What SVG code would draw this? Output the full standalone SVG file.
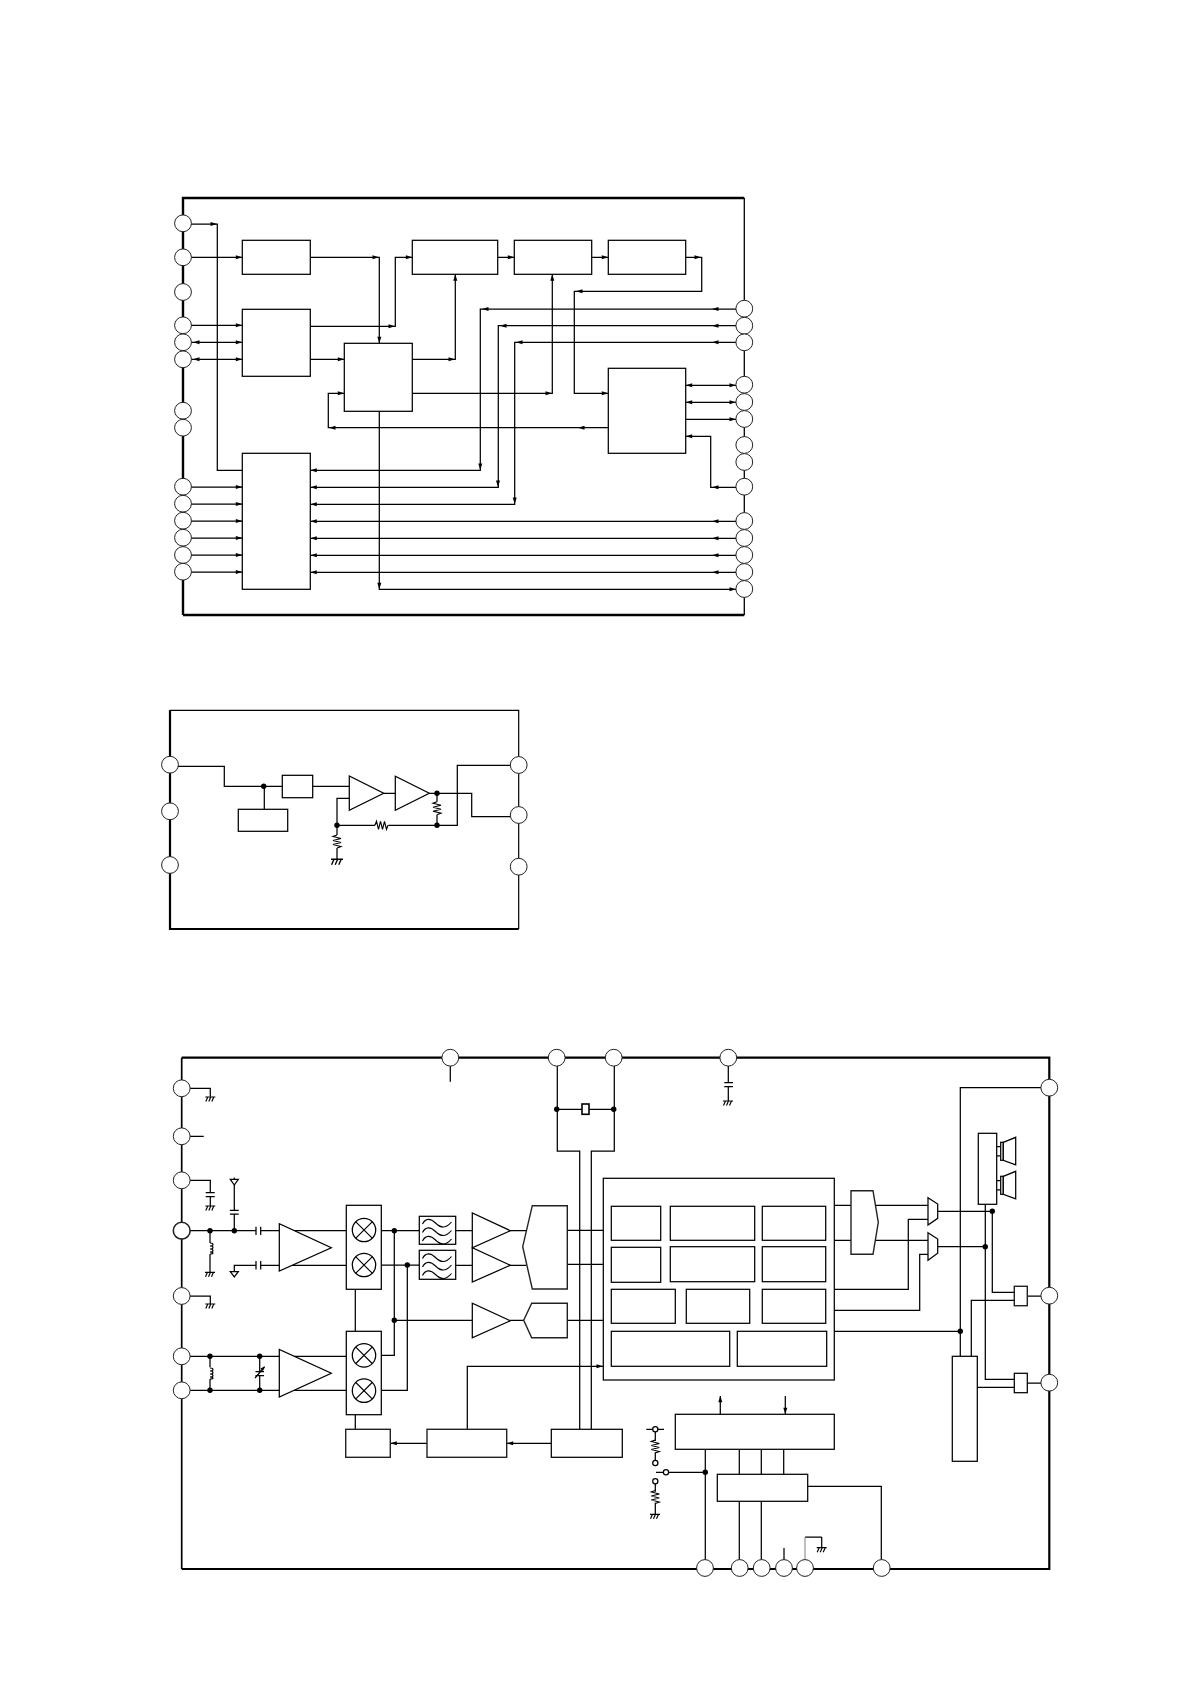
<svg xmlns="http://www.w3.org/2000/svg" width="1190" height="1684" viewBox="0 0 1190 1684">
<style>
.w{fill:none;stroke:#000;stroke-width:1.25}
.b{fill:#fff;stroke:#000;stroke-width:1.25}
.g{fill:#fff;stroke:#222;stroke-width:1.4}
.p{fill:#fff;stroke:#222;stroke-width:1}
.f{fill:none;stroke:#000}
.d{fill:#000}
.a{fill:#000}
.t{fill:none;stroke:#000;stroke-width:1.15}
</style>
<defs>
<path id="aR" class="a" d="M0 0L-6.5 -2L-6.5 2Z"/>
<path id="aL" class="a" d="M0 0L6.5 -2L6.5 2Z"/>
<path id="aU" class="a" d="M0 0L-2 6.5L2 6.5Z"/>
<path id="aD" class="a" d="M0 0L-2 -6.5L2 -6.5Z"/>
<path id="gnd" class="t" d="M-5 0H5M-2.5 0L-4.5 4.5M.5 0L-1.5 4.5M3.5 0L1.5 4.5"/>
<path id="rv" class="t" d="M0 0L-4 1.5L4 3.5L-4 5.5L4 7.5L-4 9.5L4 11.5L0 13"/>
<path id="rh" class="t" d="M0 0L1.5 -4L3.5 4L5.5 -4L7.5 4L9.5 -4L11.5 4L13 0"/>
<path id="ind" class="t" d="M0 0c4 0 4 3 0 3c4 0 4 3 0 3c4 0 4 3 0 3c4 0 4 2 0 2"/>
<path id="wave" class="t" d="M0 2c3 -6 8 -6 13 -1s10 6 16 -1"/>
<g id="mix"><circle class="b" r="11.7"/><path class="t" d="M-8.2 -8.2L8.2 8.2M8.2 -8.2L-8.2 8.2"/></g>
<g id="spk"><path class="t" d="M-3.9 -4.7H0M-3.9 4.6H0"/><rect class="b" y="-9" width="2.6" height="18"/><path class="b" d="M2.6 -9L15 -14V13.5L2.6 9Z"/></g>
</defs>

<g id="frames">
<path class="f" stroke-width="2.4" d="M183 615V198H744.3M183 615H744.3"/>
<path class="f" stroke-width="1.3" d="M744.3 198V615"/>
<path class="f" stroke-width="2.2" d="M170 710V929H518.7"/>
<path class="f" stroke-width="1.2" d="M170 710.3H518.7V929"/>
<path class="f" stroke-width="1.7" d="M181.7 1569V1057.7"/>
<path class="f" stroke-width="2.2" d="M181.7 1057.7H1049.3V1569H181.7"/>
</g>

<g id="connectors">
<path class="w" d="M191 224H217.3V470.3H242.3M191 257.3H242.3M310.3 257.3H379.3V343.3M310.3 326.3H395.3V257.3H412.3M191 325.3H242.3M191 342.3H242.3M191 359.3H242.3M310.3 359.3H344.3M412.3 359.3H455.3V274.3M412.3 393.3H552.3V274.3M344.3 393.3H328.3V427.7H608.3M379.3 411.3V589.3H736M497.7 257.3H514.3M591.7 257.3H608.3M685.7 257.3H701.7V291.3H574.3V393.3H608.3"/>
<path class="w" d="M736 309H480.3V470.3H310.3M736 325.7H498.3V487.3H310.3M736 342.3H514.7V504.3H310.3M736 521.3H310.3M736 538.3H310.3M736 555.3H310.3M736 572.3H310.3M191 487H242.3M191 504H242.3M191 521H242.3M191 538H242.3M191 555H242.3M191 572H242.3M685.7 385.3H736M685.7 402.3H736M685.7 419.3H736M736 487.3H710.7V436.3H685.7"/>
<use href="#aR" x="217" y="224"/><use href="#aR" x="242.3" y="257.3"/><use href="#aR" x="379" y="257.3"/><use href="#aD" x="379.3" y="343.3"/><use href="#aR" x="395" y="326.3"/><use href="#aR" x="412.3" y="257.3"/><use href="#aR" x="242.3" y="325.3"/><use href="#aR" x="242.3" y="342.3"/><use href="#aR" x="242.3" y="359.3"/><use href="#aL" x="193" y="342.3"/><use href="#aL" x="193" y="359.3"/><use href="#aR" x="344.3" y="359.3"/><use href="#aR" x="455" y="359.3"/><use href="#aU" x="455.3" y="274.3"/><use href="#aR" x="552" y="393.3"/><use href="#aU" x="552.3" y="274.3"/><use href="#aR" x="344.3" y="393.3"/><use href="#aL" x="329" y="427.7"/><use href="#aL" x="578" y="427.7"/><use href="#aD" x="379.3" y="589.3"/><use href="#aR" x="736" y="589.3"/><use href="#aR" x="514.3" y="257.3"/><use href="#aR" x="608.3" y="257.3"/><use href="#aR" x="701" y="257.3"/><use href="#aL" x="576" y="291.3"/><use href="#aR" x="608.3" y="393.3"/>
<use href="#aL" x="712" y="309"/><use href="#aL" x="482" y="309"/><use href="#aD" x="480.3" y="470"/><use href="#aL" x="310.3" y="470.3"/><use href="#aL" x="712" y="325.7"/><use href="#aL" x="500" y="325.7"/><use href="#aD" x="498" y="487"/><use href="#aL" x="310.3" y="487.3"/><use href="#aL" x="712" y="342.3"/><use href="#aL" x="516" y="342.3"/><use href="#aD" x="514.7" y="504"/><use href="#aL" x="310.3" y="504.3"/>
<use href="#aL" x="712" y="521.3"/><use href="#aL" x="310.3" y="521.3"/><use href="#aL" x="712" y="538.3"/><use href="#aL" x="310.3" y="538.3"/><use href="#aL" x="712" y="555.3"/><use href="#aL" x="310.3" y="555.3"/><use href="#aL" x="712" y="572.3"/><use href="#aL" x="310.3" y="572.3"/>
<use href="#aR" x="242.3" y="487"/><use href="#aR" x="242.3" y="504"/><use href="#aR" x="242.3" y="521"/><use href="#aR" x="242.3" y="538"/><use href="#aR" x="242.3" y="555"/><use href="#aR" x="242.3" y="572"/>
<use href="#aL" x="685.7" y="385.3"/><use href="#aR" x="736" y="385.3"/><use href="#aL" x="685.7" y="402.3"/><use href="#aR" x="736" y="402.3"/><use href="#aR" x="736" y="419.3"/><use href="#aL" x="712" y="487.3"/><use href="#aL" x="685.7" y="436.3"/>

<path class="w" d="M178 766.3H224.3V786.3H349.3M264.3 786.3V809.3M383.7 793.3H395.3M429.3 793.3H471.7V816.7H510M437 793.3V801.7M437 814.7V825.3M510 765.3H457.3V825.3H388.3M375 825.3H337M349.3 798.3H337V835M337 848V859.3"/>
<use href="#rh" x="375" y="825.3"/><use href="#rv" x="437" y="801.7"/><use href="#rv" x="337" y="835"/>
<use href="#gnd" transform="translate(337 859.3) scale(1.2)"/>
<circle class="d" cx="263.7" cy="786.3" r="2.7"/><circle class="d" cx="437" cy="793.3" r="2.7"/><circle class="d" cx="437" cy="825.3" r="2.7"/><circle class="d" cx="337" cy="825.3" r="2.7"/>

<path class="w" d="M190 1088.3H210.3V1096.7M190 1136.3H203.7M190 1180.3H210.3V1192.7M210.3 1196.7V1206M205.7 1192.7H214.7M205.7 1196.7H214.7M190 1230.7H256M260.7 1230.7H279.3M256 1226.7V1235M260.7 1226.7V1235M210 1230.7V1243M210 1254V1272.3M234.3 1230.7V1214M234.3 1210.3V1185M229.9 1214H238.7M229.9 1210.3H238.7M234.3 1271.7V1265.3H256M260.7 1265.3H279.3M256 1261V1269.5M260.7 1261V1269.5M261 1265.3H267"/>
<use href="#gnd" x="210.3" y="1097"/><use href="#gnd" x="210.3" y="1206"/><use href="#gnd" x="210" y="1272.3"/><use href="#ind" x="210" y="1243"/>
<path class="b" d="M230.3 1179.3H238.3L234.3 1185Z"/><path class="b" d="M230.3 1271.7H238.3L234.3 1277Z"/><path class="t" d="M234.3 1177.5V1180"/>
<path class="w" d="M190 1296H210.3V1304M190 1356.3H279.3M190 1390.3H279.3M210 1356.3V1367.3M210 1379V1390.3M259.7 1356.3V1371.7M259.7 1375.7V1390.3M255.5 1371.7H264M255.5 1375.7H264M255 1378L264.5 1367"/>
<path class="a" d="M265 1366.3L260.5 1368.5L263 1371Z"/>
<use href="#gnd" x="210.3" y="1304"/><use href="#ind" x="210" y="1368"/>
<circle class="d" cx="210" cy="1230.7" r="2.7"/><circle class="d" cx="234.3" cy="1230.7" r="2.7"/><circle class="d" cx="210" cy="1356.3" r="2.7"/><circle class="d" cx="210" cy="1390.3" r="2.7"/><circle class="d" cx="259.7" cy="1356.3" r="2.7"/><circle class="d" cx="259.7" cy="1390.3" r="2.7"/>
<path class="w" d="M450.3 1066V1081.7M557.3 1066V1151H579.7V1429.3M614.3 1066V1151H591.3V1429.3M556.7 1109.3H582M589 1109.3H613.7M728.3 1066V1082.7M728.3 1086.7V1101M724.3 1082.7H733M724.3 1086.7H733"/>
<use href="#gnd" x="728" y="1101"/>
<circle class="d" cx="556.7" cy="1109.3" r="2.7"/><circle class="d" cx="613.7" cy="1109.3" r="2.7"/>
<path class="w" d="M294.5 1230.7H346.3M292 1265.3H346.3M355.3 1289.3V1331.3M294 1356.3H346.3M294 1390.3H346.3M381.3 1230.7H419.3M381.3 1265H419.3M381.3 1355.3H394.3V1230.7M381.3 1390.3H407.3V1265M394.3 1320.3H472.3M455.7 1230.7H472.3M455.7 1265.3H472.3M510.3 1230.7H526M510.3 1265.3H526M510.3 1320.3H523.7M567.3 1230.3H603.3M567.3 1264.3H603.3M567.3 1320.3H603.3M355.3 1414.7V1429.3M467.3 1429.3V1366.3H603.3M551.3 1443.3H506.7M427 1443.3H390.3"/>
<use href="#aL" x="506.7" y="1443.3"/><use href="#aL" x="390.3" y="1443.3"/><use href="#aR" x="603" y="1366.3"/>
<circle class="d" cx="394.3" cy="1230.7" r="2.7"/><circle class="d" cx="407.3" cy="1265" r="2.7"/><circle class="d" cx="394.3" cy="1320.3" r="2.7"/>
<path class="w" d="M834.3 1205.3H851M834.3 1240.3H851M875 1205.3H928M875 1240.3H928M928 1219.3H908.3V1289.3H834.3M928 1254.3H919.7V1310.3H834.3M937.7 1211.3H992.3V1292.3H1014.3M937.7 1246.7H985.3M985.3 1204.3V1379.3H1014.3M1041 1087.7H960.3V1356.3M834.3 1331.3H960.3M971.3 1356.3V1300.3H1014.3M977.3 1387.3H1014.3M1027.3 1296H1041M1027.3 1383H1041"/>
<circle class="d" cx="992.3" cy="1211.3" r="2.7"/><circle class="d" cx="985.3" cy="1246.7" r="2.7"/><circle class="d" cx="960.3" cy="1331.3" r="2.7"/>
<path class="w" d="M720.3 1415.3V1396M785.3 1396V1414.3M705.3 1449.3V1560M705.3 1472.3H656M739.3 1449.3V1474.3M761.3 1449.3V1474.3M783.7 1449.3V1474.3M739.3 1501.3V1560M761.3 1501.3V1560M784 1548V1560M821.7 1537V1547.7M805 1537H821.7M807.7 1486.3H881.3V1560"/>
<path class="w" style="stroke:#999" d="M805 1560V1537"/>
<use href="#aU" x="720.3" y="1395.7"/><use href="#aD" x="785.3" y="1414.3"/><use href="#gnd" x="821.7" y="1547.7"/>
<circle class="d" cx="705.3" cy="1472.3" r="2.7"/>
<path class="w" d="M646.3 1429.3H664M655.3 1429.3V1441M655.3 1452.3V1463M655.3 1481.3V1491.7M655.3 1502.7V1514.3"/>
<use href="#rv" x="655.3" y="1440"/><use href="#rv" x="655.3" y="1490.5"/><use href="#gnd" x="655" y="1514.3"/>
<circle class="b" cx="655.3" cy="1429.3" r="2.6"/><circle class="b" cx="655.3" cy="1463" r="2.6"/><circle class="b" cx="666" cy="1472.3" r="2.6"/><circle class="b" cx="655.3" cy="1481.3" r="2.6"/>
</g>

<g id="u1-blocks">
<rect id="u1-b1" class="b" x="242.3" y="240.3" width="68" height="34"/>
<rect id="u1-b2" class="b" x="242.3" y="309.3" width="68" height="67"/>
<rect id="u1-b3" class="b" x="344.3" y="343.3" width="68" height="68"/>
<rect id="u1-b4" class="b" x="242.3" y="453.3" width="68" height="136"/>
<rect id="u1-b5" class="b" x="412.3" y="240.3" width="85.4" height="34"/>
<rect id="u1-b6" class="b" x="514.3" y="240.3" width="77.4" height="34"/>
<rect id="u1-b7" class="b" x="608.3" y="240.3" width="77.4" height="34"/>
<rect id="u1-b8" class="b" x="608.3" y="368.3" width="77.4" height="85"/>
</g>
<g id="u1-pins">
<circle class="p" cx="183" cy="223.3" r="8.4"/><circle class="p" cx="183" cy="257.3" r="8.4"/><circle class="p" cx="183" cy="292" r="8.4"/><circle class="p" cx="183" cy="325.3" r="8.4"/><circle class="p" cx="183" cy="342.3" r="8.4"/><circle class="p" cx="183" cy="359.3" r="8.4"/><circle class="p" cx="183" cy="410.7" r="8.4"/><circle class="p" cx="183" cy="427.7" r="8.4"/><circle class="p" cx="183" cy="486.7" r="8.4"/><circle class="p" cx="183" cy="503.7" r="8.4"/><circle class="p" cx="183" cy="520.7" r="8.4"/><circle class="p" cx="183" cy="537.7" r="8.4"/><circle class="p" cx="183" cy="555" r="8.4"/><circle class="p" cx="183" cy="571.7" r="8.4"/>
<circle class="p" cx="744.3" cy="308.7" r="8.4"/><circle class="p" cx="744.3" cy="325.7" r="8.4"/><circle class="p" cx="744.3" cy="342.3" r="8.4"/><circle class="p" cx="744.3" cy="384.7" r="8.4"/><circle class="p" cx="744.3" cy="402" r="8.4"/><circle class="p" cx="744.3" cy="419" r="8.4"/><circle class="p" cx="744.3" cy="445" r="8.4"/><circle class="p" cx="744.3" cy="462" r="8.4"/><circle class="p" cx="744.3" cy="486.7" r="8.4"/><circle class="p" cx="744.3" cy="521" r="8.4"/><circle class="p" cx="744.3" cy="538" r="8.4"/><circle class="p" cx="744.3" cy="555" r="8.4"/><circle class="p" cx="744.3" cy="572" r="8.4"/><circle class="p" cx="744.3" cy="589" r="8.4"/>
</g>

<g id="u2-blocks">
<rect id="u2-b1" class="b" x="282.3" y="775.3" width="30.4" height="22.4"/>
<rect id="u2-b2" class="b" x="238.3" y="809.3" width="49.4" height="22"/>
<path id="u2-a1" class="b" d="M349.3 776V810.3L383.7 793.3Z"/>
<path id="u2-a2" class="b" d="M395.3 776.3V810.3L429.3 793.3Z"/>
</g>
<g id="u2-pins">
<circle class="p" cx="170" cy="764.7" r="8.4"/><circle class="p" cx="170" cy="811.3" r="8.4"/><circle class="p" cx="170" cy="865" r="8.4"/><circle class="p" cx="518.7" cy="765" r="8.4"/><circle class="p" cx="518.7" cy="815" r="8.4"/><circle class="p" cx="518.7" cy="866.7" r="8.4"/>
</g>

<g id="u3-rf">
<path id="u3-lna1" class="b" d="M279.3 1223.7V1271L331.3 1247.7Z"/>
<path id="u3-lna2" class="b" d="M279.3 1349.5V1397L331.3 1373.3Z"/>
<g id="u3-mix1"><rect class="b" x="346.3" y="1205.3" width="35" height="84"/><use href="#mix" x="364" y="1230"/><use href="#mix" x="364" y="1265"/></g>
<g id="u3-mix2"><rect class="b" x="346.3" y="1331.3" width="35" height="83.4"/><use href="#mix" x="364" y="1355.3"/><use href="#mix" x="364" y="1390.7"/></g>
<g id="u3-fil1"><rect class="b" x="419.3" y="1216.3" width="36.4" height="28"/><use href="#wave" x="422.5" y="1222"/><use href="#wave" x="422.5" y="1230.5"/><use href="#wave" x="422.5" y="1239"/></g>
<g id="u3-fil2"><rect class="b" x="419.3" y="1250.3" width="36.4" height="29"/><use href="#wave" x="422.5" y="1256.5"/><use href="#wave" x="422.5" y="1265"/><use href="#wave" x="422.5" y="1273.5"/></g>
<path id="u3-a1" class="b" d="M472.3 1213V1247.7L510.3 1230.7Z"/>
<path id="u3-a2" class="b" d="M472.3 1247.7V1282L510.3 1265.3Z"/>
<path id="u3-a3" class="b" d="M472.3 1303.3V1337.7L510.3 1320.7Z"/>
<path id="u3-adc1" class="g" d="M532.3 1205.7H567.3V1289H532.3L522.7 1246.7Z"/>
<path id="u3-adc2" class="g" d="M531.7 1303.3H567.3V1337.7H531.7L523.7 1320.3Z"/>
<rect id="u3-xtal" class="b" style="stroke-width:1.6" x="582" y="1104" width="7" height="10.3"/>
</g>
<g id="u3-dsp">
<rect class="b" x="603.3" y="1178.3" width="231" height="201.7"/>
<rect class="b" x="611.3" y="1206.3" width="49.4" height="34"/>
<rect class="b" x="670.3" y="1206.3" width="84.4" height="34"/>
<rect class="b" x="762.3" y="1206.3" width="63.4" height="34"/>
<rect class="b" x="611.3" y="1247.3" width="49.4" height="35"/>
<rect class="b" x="670.3" y="1246.7" width="84.4" height="35"/>
<rect class="b" x="762.3" y="1246.7" width="63.4" height="35"/>
<rect class="b" x="611.3" y="1289.3" width="64" height="34"/>
<rect class="b" x="686.3" y="1289.3" width="63.4" height="34"/>
<rect class="b" x="762.3" y="1289.3" width="63.4" height="34"/>
<rect class="b" x="611.3" y="1331.3" width="118.4" height="35"/>
<rect class="b" x="737.3" y="1331.3" width="89.4" height="35"/>
</g>
<g id="u3-pll">
<rect id="u3-p1" class="g" x="345.7" y="1429.3" width="44.6" height="28"/>
<rect id="u3-p2" class="g" x="427" y="1429.3" width="79.7" height="28"/>
<rect id="u3-p3" class="b" x="551.3" y="1429.3" width="71" height="28"/>
</g>
<g id="u3-ctrl">
<rect id="u3-c1" class="b" x="675.3" y="1414.3" width="159" height="35"/>
<rect id="u3-c2" class="b" x="717.3" y="1474.3" width="90.4" height="27"/>
</g>
<g id="u3-out">
<path id="u3-dac" class="g" d="M851 1190.7H873L878.3 1222.3L873 1254.3H851Z"/>
<path id="u3-mux1" class="b" d="M928 1197.7L937.7 1204V1218.3L928 1225Z"/>
<path id="u3-mux2" class="b" d="M928 1232.7L937.7 1239V1253.3L928 1260.3Z"/>
<rect id="u3-amp" class="b" x="978.3" y="1133.3" width="18.4" height="71"/>
<use id="u3-spk1" href="#spk" x="1000.7" y="1151.3"/>
<use id="u3-spk2" href="#spk" x="1000.7" y="1185.3"/>
<rect id="u3-reg" class="b" x="952.3" y="1356.3" width="25" height="105"/>
<rect id="u3-sw1" class="g" x="1014.3" y="1286.3" width="13" height="19.4"/>
<rect id="u3-sw2" class="b" x="1014.3" y="1373.3" width="13" height="19.4"/>
</g>
<g id="u3-pins">
<circle class="p" cx="181.7" cy="1088.3" r="8.4"/><circle class="p" cx="181.7" cy="1136.3" r="8.4"/><circle class="p" cx="181.7" cy="1180.3" r="8.4"/><circle class="p" style="stroke-width:1.6" cx="181.7" cy="1230.7" r="8.4"/><circle class="p" cx="181.7" cy="1296" r="8.4"/><circle class="p" cx="181.7" cy="1356.3" r="8.4"/><circle class="p" cx="181.7" cy="1390.3" r="8.4"/>
<circle class="p" cx="450.3" cy="1057.7" r="8.4"/><circle class="p" cx="556.7" cy="1057.7" r="8.4"/><circle class="p" cx="613.7" cy="1057.7" r="8.4"/><circle class="p" cx="728.3" cy="1057.7" r="8.4"/>
<circle class="p" cx="1049.3" cy="1087.7" r="8.4"/><circle class="p" cx="1049.3" cy="1295.7" r="8.4"/><circle class="p" cx="1049.3" cy="1382.7" r="8.4"/>
<circle class="p" cx="705" cy="1568" r="8.4"/><circle class="p" cx="739.7" cy="1568" r="8.4"/><circle class="p" cx="761.7" cy="1568" r="8.4"/><circle class="p" cx="784" cy="1568" r="8.4"/><circle class="p" cx="805" cy="1568" r="8.4"/><circle class="p" cx="881.7" cy="1568" r="8.4"/>
</g>
</svg>
